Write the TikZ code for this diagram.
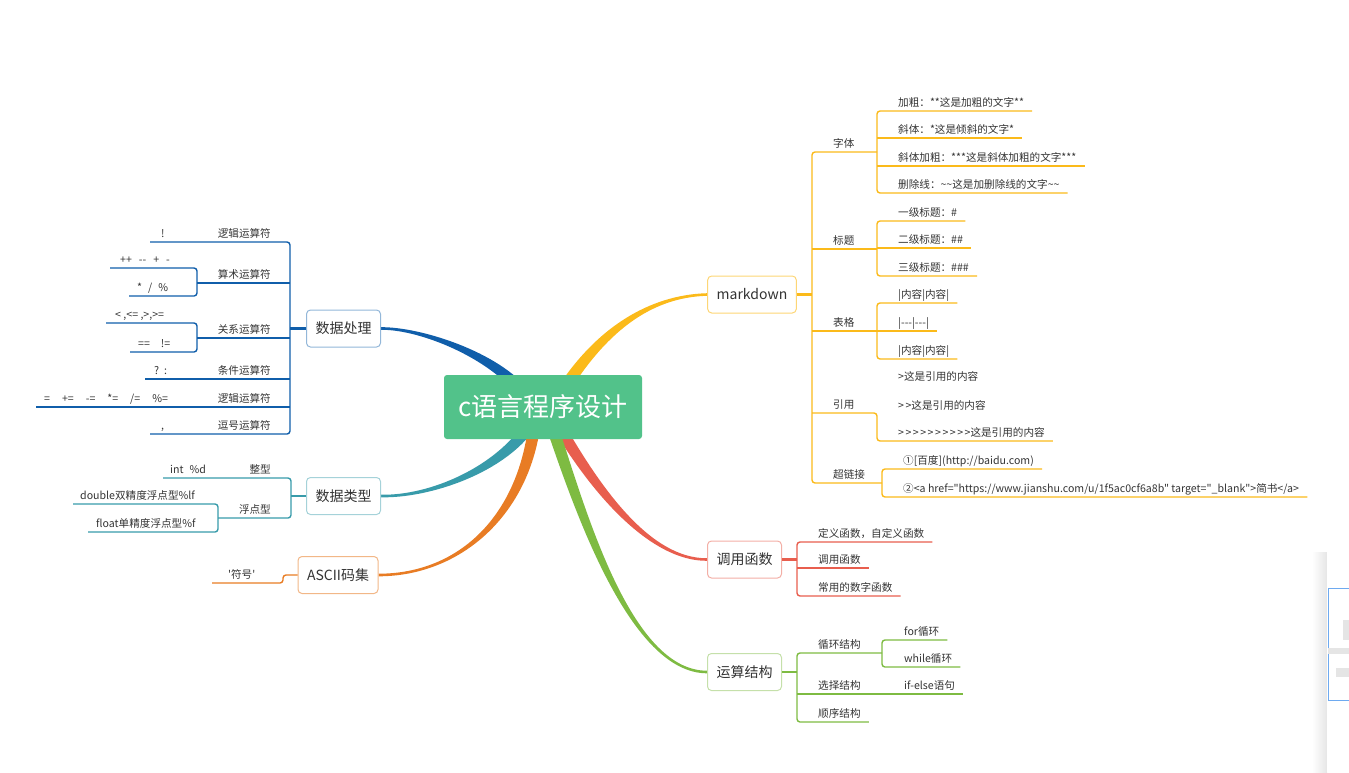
\documentclass[tikz,border=0pt]{standalone}
\usepackage{fontspec}
\setmainfont{Noto Sans CJK SC}[Ligatures=TeXOff]
\usetikzlibrary{calc,backgrounds}

\definecolor{rootgreen}{RGB}{82,194,138}
\definecolor{ink}{RGB}{51,51,51}
\definecolor{cblue}{RGB}{16,94,170}
\definecolor{cteal}{RGB}{56,155,170}
\definecolor{corange}{RGB}{232,124,36}
\definecolor{cred}{RGB}{232,94,78}
\definecolor{cgreen}{RGB}{126,187,66}
\definecolor{cyellow}{RGB}{251,186,26}
\definecolor{cpanel}{RGB}{110,170,240}

% tapered limb: colour, start, control 1, control 2, end, half width at start
\newcommand{\limb}[6]{%
  \fill[#1] ($#2+(#6)$) .. controls ($#3+0.9*(#6)$) and ($#4+(0,-1.3)$) .. ($#5+(0,-1.3)$)
    -- ($#5+(0,1.3)$) .. controls ($#4+(0,1.3)$) and ($#3-0.9*(#6)$) .. ($#2-(#6)$) -- cycle;}

\begin{document}
\begin{tikzpicture}[
  x = 1pt, y = -1pt,
  rootbox/.style = {
    fill = rootgreen, text = white, rounded corners = 3pt,
    minimum width = 198pt, minimum height = 64pt,
    font = \fontsize{26}{30}\selectfont
  },
  topic/.style = {
    draw = #1, fill = white, text = ink, line width = 1pt,
    rounded corners = 4pt, minimum height = 37pt, inner xsep = 9pt,
    font = \fontsize{14}{16}\selectfont
  },
  leaf/.style = {
    anchor = south west, text = ink, inner xsep = 0pt, inner ysep = 1.5pt,
    text height = 7.5pt, text depth = 2.5pt,
    font = \fontsize{10.6}{12}\selectfont
  },
  twig/.style = {draw = #1, line width = 1.4pt, rounded corners = 3pt},
  stub/.style = {draw = #1, line width = 2.6pt}
]
  \useasboundingbox (0,0) rectangle (1349,772);

  % root and topics
  \node[rootbox] (root) at (543,407) {c语言程序设计};
  \node[topic = cyellow!60] (md) at (752,294.5) {markdown};
  \node[topic = cblue!45] (proc) at (343.5,328.5) {数据处理};
  \node[topic = cteal!45] (type) at (343.5,496) {数据类型};
  \node[topic = corange!55] (ascii) at (338,575) {ASCII码集};
  \node[topic = cred!50] (func) at (744.5,559.5) {调用函数};
  \node[topic = cgreen!45] (flow) at (744.5,672) {运算结构};

  \begin{scope}[on background layer]
    \limb{cyellow}{(560,395)}{(600,330)}{(650,296)}{(md.west)}{-5.2,-3.1}
    \limb{cblue}{(525,395)}{(495,355)}{(420,328)}{(proc.east)}{4.8,-3.6}
    \limb{cteal}{(530,425)}{(500,470)}{(430,497)}{(type.east)}{-5,-3.3}
    \limb{corange}{(535,420)}{(525,515)}{(460,575)}{(ascii.east)}{-6,-0.6}
    \limb{cred}{(555,420)}{(595,490)}{(650,560)}{(func.west)}{5.2,-3}
    \limb{cgreen}{(550,420)}{(580,510)}{(630,672)}{(flow.west)}{5.7,-1.9}
  \end{scope}

  % markdown
  \coordinate (mdj) at (812,294.5);
  \coordinate (fontj) at (877,152);
  \coordinate (headj) at (877,249);
  \coordinate (tablej) at (877,331);
  \coordinate (quotej) at (877,413);
  \coordinate (linkj) at (882,483);
  \node[leaf] (font) at (833,152) {字体};
  \node[leaf] (head) at (833,249) {标题};
  \node[leaf] (table) at (833,331) {表格};
  \node[leaf] (quote) at (833,413) {引用};
  \node[leaf] (link) at (833,483) {超链接};
  \node[leaf] (bold) at (898,111) {加粗：**这是加粗的文字**};
  \node[leaf] (ital) at (898,138) {斜体：*这是倾斜的文字*};
  \node[leaf] (bital) at (898,166) {斜体加粗：***这是斜体加粗的文字***};
  \node[leaf] (strike) at (898,193) {删除线：\string~\string~这是加删除线的文字\string~\string~};
  \node[leaf] (h1) at (898,221) {一级标题：\#};
  \node[leaf] (h2) at (898,248) {二级标题：\#\#};
  \node[leaf] (h3) at (898,276) {三级标题：\#\#\#};
  \node[leaf] (row1) at (898,303) {|内容|内容|};
  \node[leaf] (rule) at (898,331) {|---|---|};
  \node[leaf] (row2) at (898,359) {|内容|内容|};
  \node[leaf] (q1) at (898,385) {>这是引用的内容};
  \node[leaf] (q2) at (898,414) {>\kern1.5pt>这是引用的内容};
  \node[leaf] (q3) at (898,441) {>\kern1.5pt>\kern1.5pt>\kern1.5pt>\kern1.5pt>\kern1.5pt>\kern1.5pt>\kern1.5pt>\kern1.5pt>\kern1.5pt>这是引用的内容};
  \node[leaf] (url1) at (903,469) {①[百度](http://baidu.com)};
  \node[leaf] (url2) at (903,497) {②<a href="https://www.jianshu.com/u/1f5ac0cf6a8b" target="\_blank">简书</a>};

  \draw[stub = cyellow] (md.east) -- (mdj);
  \draw[twig = cyellow] (fontj) -- (mdj |- font.south) -- (mdj |- link.south) -- (linkj);
  \draw[twig = cyellow] (mdj |- head.south) -- (headj);
  \draw[twig = cyellow] (mdj |- table.south) -- (tablej);
  \draw[twig = cyellow] ([xshift=8]bold.south east) -- (fontj |- bold.south) -- (fontj |- strike.south) -- ([xshift=8]strike.south east);
  \draw[twig = cyellow] (fontj |- ital.south) -- ([xshift=8]ital.south east);
  \draw[twig = cyellow] (fontj |- bital.south) -- ([xshift=8]bital.south east);
  \draw[twig = cyellow] ([xshift=8]h1.south east) -- (headj |- h1.south) -- (headj |- h3.south) -- ([xshift=8]h3.south east);
  \draw[twig = cyellow] (headj |- h2.south) -- ([xshift=8]h2.south east);
  \draw[twig = cyellow] ([xshift=8]row1.south east) -- (tablej |- row1.south) -- (tablej |- row2.south) -- ([xshift=8]row2.south east);
  \draw[twig = cyellow] (tablej |- rule.south) -- ([xshift=8]rule.south east);
  \draw[twig = cyellow] (mdj |- quote.south) -- (quotej) -- (quotej |- q3.south) -- ([xshift=8]q3.south east);
  \draw[twig = cyellow] ([xshift=8]url1.south east) -- (linkj |- url1.south) -- (linkj |- url2.south) -- ([xshift=8]url2.south east);

  % 数据处理
  \coordinate (procj) at (290,328.5);
  \coordinate (arithj) at (197,283);
  \coordinate (relj) at (197,338);
  \node[leaf, anchor = south east] (lnot) at (271,242) {逻辑运算符};
  \node[leaf, anchor = south east] (arith) at (271,283) {算术运算符};
  \node[leaf, anchor = south east] (rel) at (271,338) {关系运算符};
  \node[leaf, anchor = south east] (cond) at (271,379) {条件运算符};
  \node[leaf, anchor = south east] (assign) at (271,407) {逻辑运算符};
  \node[leaf, anchor = south east] (comma) at (271,434) {逗号运算符};
  \node[leaf] (bang) at (161,242) {!};
  \node[leaf] (incr) at (120,268) {++\hspace{7pt}--\hspace{7pt}+\hspace{7pt}-};
  \node[leaf] (mult) at (137,296) {*\hspace{6pt}/\hspace{6pt}\%};
  \node[leaf] (cmp) at (115,323) {< ,<= ,>,>=};
  \node[leaf] (eq) at (138,352) {==\hspace{11pt}!=};
  \node[leaf] (tern) at (154,379) {?\hspace{5pt}:};
  \node[leaf] (asg) at (44,407) {=\hspace{12pt}+=\hspace{12pt}-=\hspace{12pt}*=\hspace{12pt}/=\hspace{12pt}\%=};
  \node[leaf] (comm) at (161,434) {,};

  \draw[stub = cblue] (proc.west) -- (procj);
  \draw[twig = cblue] ([xshift=-11]bang.south west) -- (procj |- lnot.south) -- (procj |- comma.south) -- ([xshift=-11]comm.south west);
  \draw[twig = cblue] (procj |- arith.south) -- (arithj);
  \draw[twig = cblue] ([xshift=-10]incr.south west) -- (arithj |- incr.south) -- (arithj |- mult.south) -- ([xshift=-8]mult.south west);
  \draw[twig = cblue] (procj |- rel.south) -- (relj);
  \draw[twig = cblue] ([xshift=-9]cmp.south west) -- (relj |- cmp.south) -- (relj |- eq.south) -- ([xshift=-8]eq.south west);
  \draw[twig = cblue] (procj |- cond.south) -- ([xshift=-9]tern.south west);
  \draw[twig = cblue, line width = 2pt] (procj |- assign.south) -- ([xshift=-8]asg.south west);

  % 数据类型
  \coordinate (typej) at (291,496);
  \coordinate (floatj) at (218,518);
  \node[leaf, anchor = south east] (intg) at (271,478) {整型};
  \node[leaf, anchor = south east] (flt) at (271,518) {浮点型};
  \node[leaf] (intfmt) at (170,478) {int\hspace{6pt}\%d};
  \node[leaf] (dbl) at (80,504) {double双精度浮点型\%lf};
  \node[leaf] (sgl) at (96,532) {float单精度浮点型\%f};

  \draw[stub = cteal] (type.west) -- (typej);
  \draw[twig = cteal] ([xshift=-7]intfmt.south west) -- (typej |- intg.south) -- (typej |- flt.south) -- (floatj);
  \draw[twig = cteal] ([xshift=-7]dbl.south west) -- (floatj |- dbl.south) -- (floatj |- sgl.south) -- ([xshift=-8]sgl.south west);

  % ASCII码集
  \coordinate (asciij) at (283,575);
  \node[leaf] (sym) at (228,583) {'符号'};
  \draw[twig = corange] (ascii.west) -- (asciij) -- (asciij |- sym.south) -- ([xshift=-16]sym.south west);

  % 调用函数
  \coordinate (funcj) at (797,559.5);
  \node[leaf] (def) at (818,542) {定义函数，自定义函数};
  \node[leaf] (call) at (818,568) {调用函数};
  \node[leaf] (maths) at (818,596) {常用的数字函数};
  \draw[stub = cred] (func.east) -- (funcj);
  \draw[twig = cred] ([xshift=8]def.south east) -- (funcj |- def.south) -- (funcj |- maths.south) -- ([xshift=8]maths.south east);
  \draw[twig = cred] (funcj |- call.south) -- ([xshift=8]call.south east);

  % 运算结构
  \coordinate (flowj) at (797,672);
  \coordinate (loopj) at (882,653);
  \node[leaf] (loop) at (818,653) {循环结构};
  \node[leaf] (choice) at (818,694) {选择结构};
  \node[leaf] (seq) at (818,722) {顺序结构};
  \node[leaf] (forloop) at (904,640) {for循环};
  \node[leaf] (whileloop) at (904,667) {while循环};
  \node[leaf] (ifelse) at (904,694) {if-else语句};
  \draw[stub = cgreen] (flow.east) -- (flowj);
  \draw[twig = cgreen] (loopj) -- (flowj |- loop.south) -- (flowj |- seq.south) -- ([xshift=8]seq.south east);
  \draw[twig = cgreen] ([xshift=8]forloop.south east) -- (loopj |- forloop.south) -- (loopj |- whileloop.south) -- ([xshift=8]whileloop.south east);
  \draw[twig = cgreen] (flowj |- choice.south) -- ([xshift=8]ifelse.south east);

  % side panel at the right edge
  \shade[left color = white, right color = black!10] (1312,552) rectangle (1327,772);
  \fill[white] (1327,552) rectangle (1349,772);
  \draw[cpanel, line width = 1pt] (1328.5,588) rectangle (1352,700);
  \fill[black!10] (1343,620) rectangle (1349,640);
  \fill[black!10] (1328,648) rectangle (1349,654);
  \fill[black!10] (1336,668) rectangle (1349,677);
\end{tikzpicture}
\end{document}
